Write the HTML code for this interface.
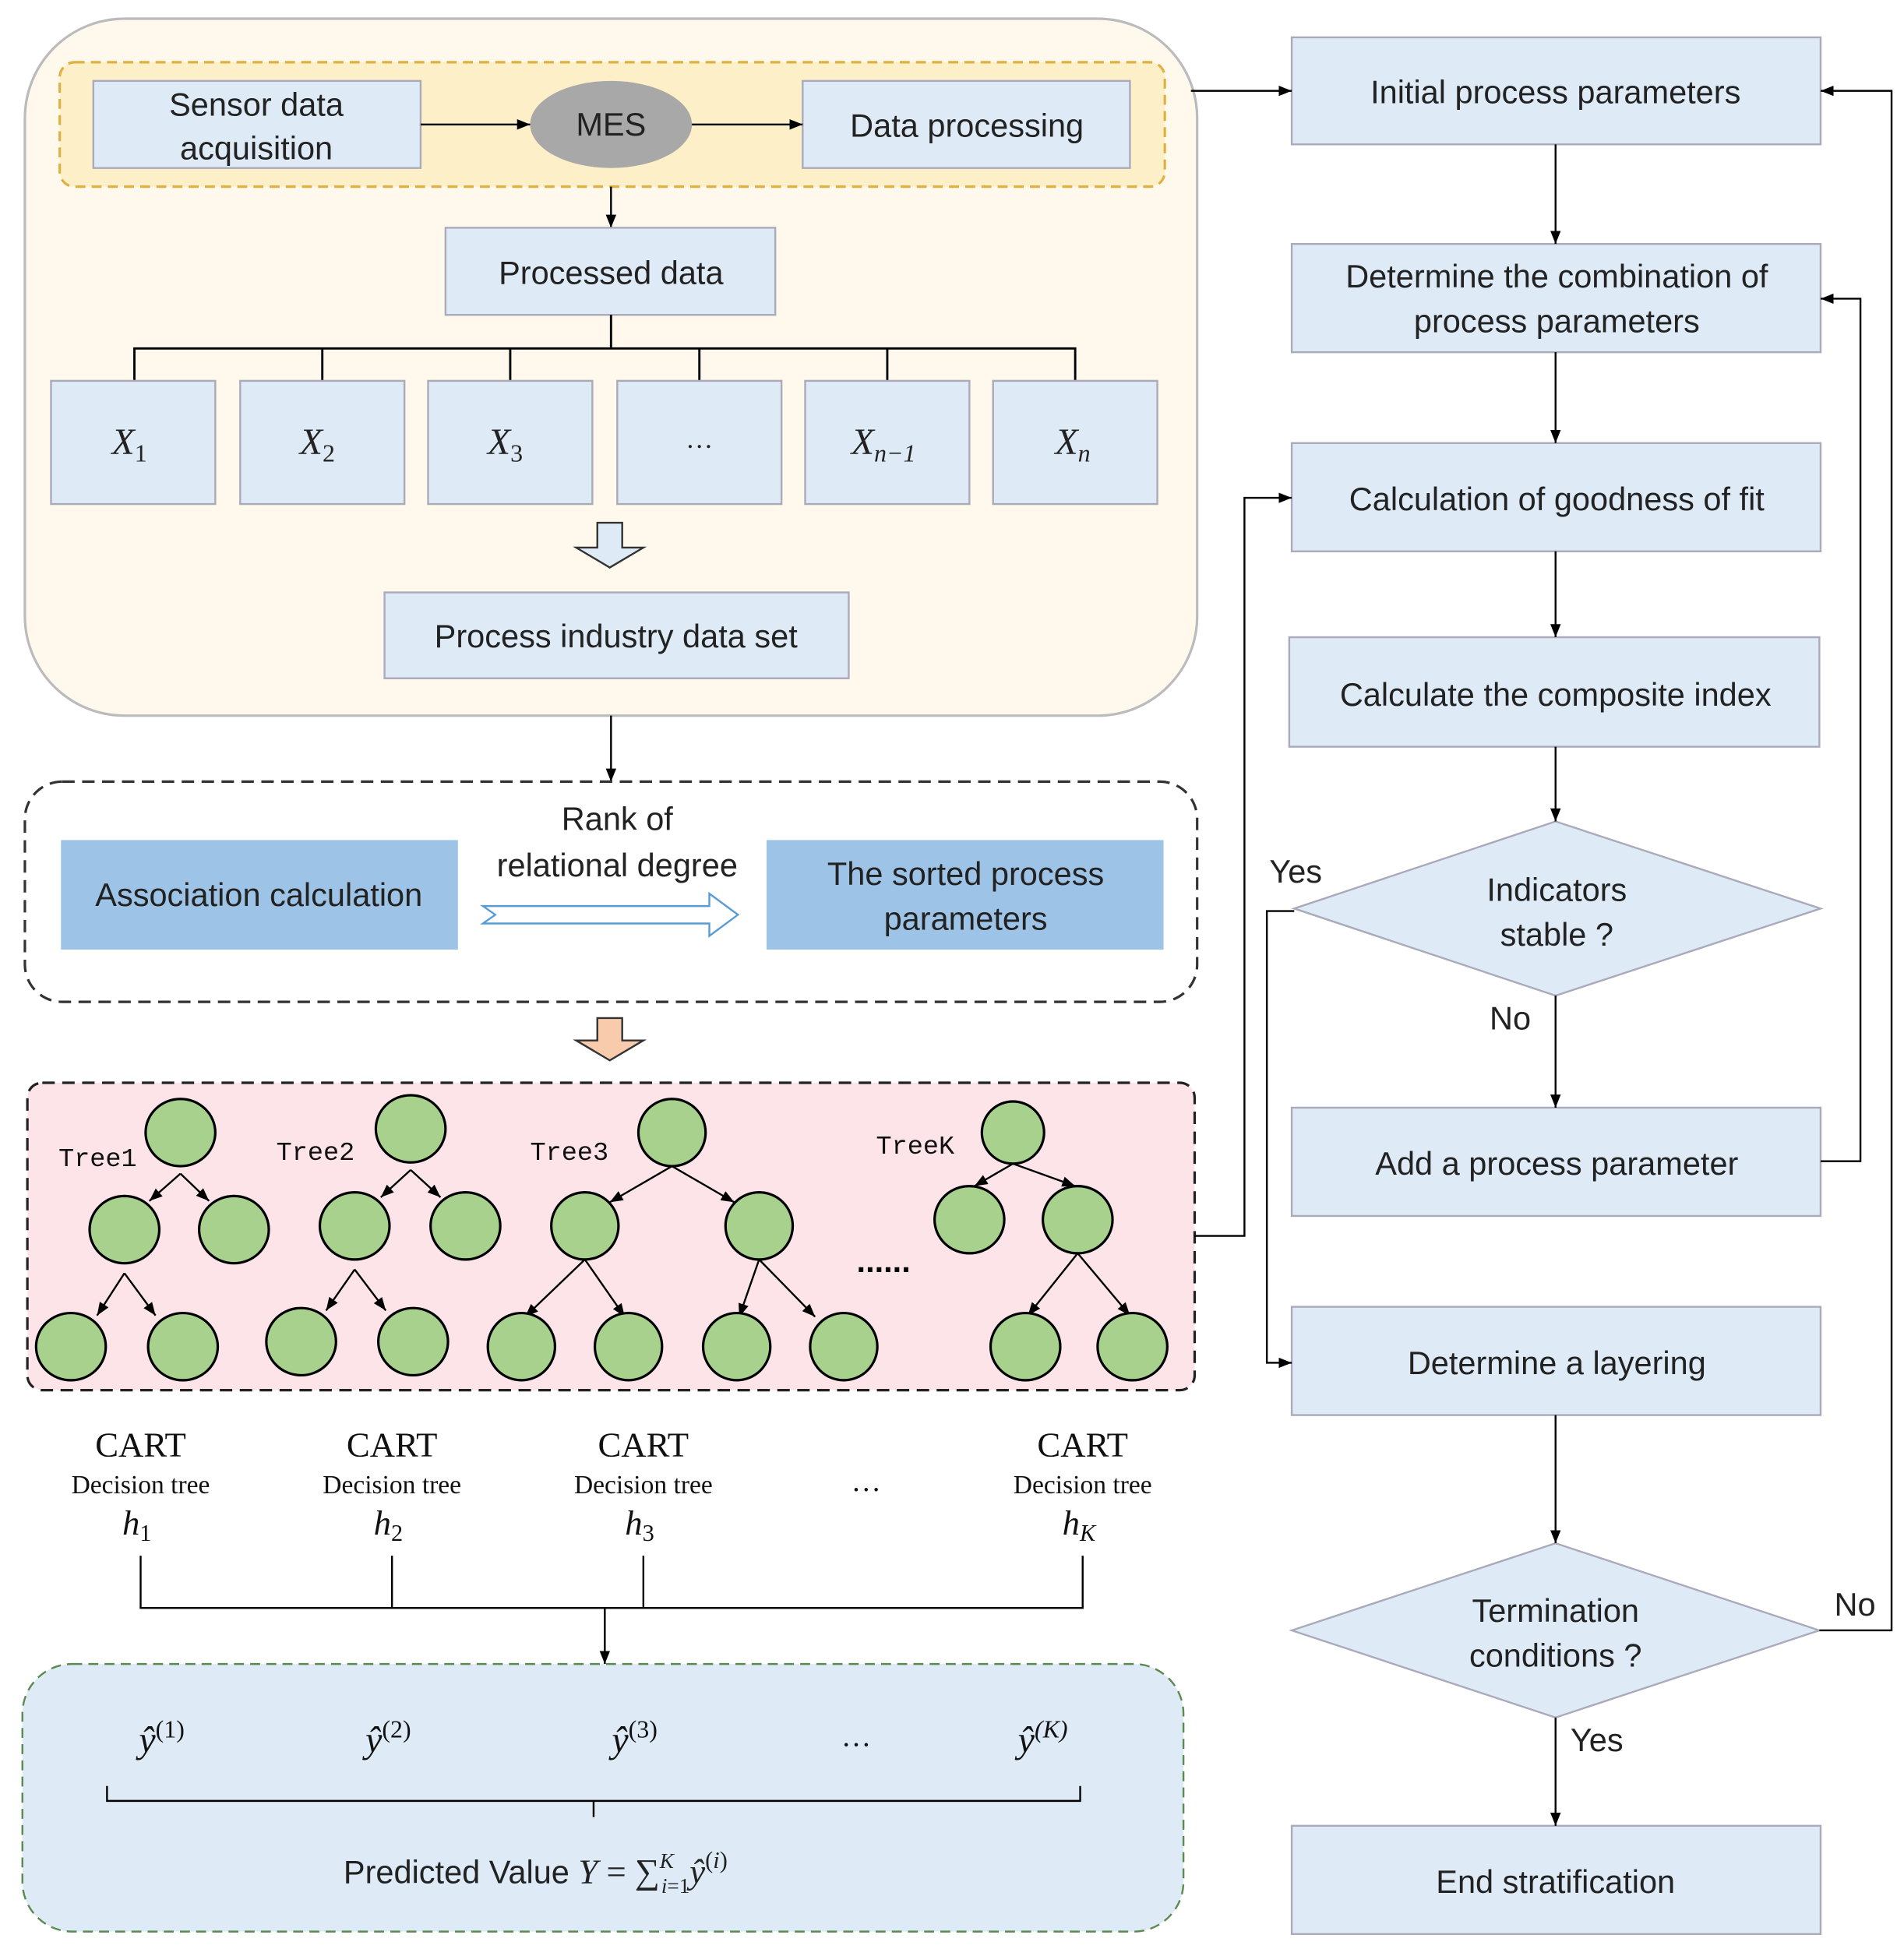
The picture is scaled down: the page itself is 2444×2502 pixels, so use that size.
<!DOCTYPE html>
<html><head><meta charset="utf-8"><style>html,body{margin:0;padding:0;background:#fff}svg{display:block}</style></head>
<body>
<svg width="2444" height="2502" viewBox="0 0 1530 1566" preserveAspectRatio="none" xmlns="http://www.w3.org/2000/svg" font-family="Liberation Sans, DejaVu Sans, sans-serif" fill="none">
<defs>
<marker id="a" viewBox="0 0 10 10" refX="10" refY="5" markerWidth="7" markerHeight="7" orient="auto"><path d="M0,1 L10,5 L0,9 z" fill="#000"/></marker>
</defs>
<g font-size="26" fill="#222">
<rect x="20" y="15" width="942" height="560" rx="80" fill="#fef9ec" stroke="#bbb" stroke-width="2"/>
<rect x="48" y="50" width="888" height="100" rx="12" fill="#fdf0c8" stroke="#e0b040" stroke-width="2" stroke-dasharray="8,5"/>
<rect x="75" y="65" width="263" height="70" fill="#deebf7" stroke="#aab" stroke-width="1.5"/>
<text x="206" y="93" text-anchor="middle">Sensor data</text>
<text x="206" y="128" text-anchor="middle">acquisition</text>
<ellipse cx="491" cy="100" rx="65" ry="35" fill="#a8a8a8"/>
<text x="491" y="109" text-anchor="middle">MES</text>
<rect x="645" y="65" width="263" height="70" fill="#deebf7" stroke="#aab" stroke-width="1.5"/>
<text x="777" y="110" text-anchor="middle">Data processing</text>
<line x1="338" y1="100" x2="426" y2="100" stroke="#000" stroke-width="1.5" marker-end="url(#a)"/>
<line x1="556" y1="100" x2="645" y2="100" stroke="#000" stroke-width="1.5" marker-end="url(#a)"/>
<line x1="491" y1="150" x2="491" y2="183" stroke="#000" stroke-width="1.5" marker-end="url(#a)"/>
<rect x="358" y="183" width="265" height="70" fill="#deebf7" stroke="#aab" stroke-width="1.5"/>
<text x="491" y="228" text-anchor="middle">Processed data</text>
<path d="M491,253 V280 M108,306 V280 H864 V306 M259,280 V306 M410,280 V306 M562,280 V306 M713,280 V306" fill="none" stroke="#000" stroke-width="1.8"/>
<g fill="#deebf7" stroke="#aab" stroke-width="1.5">
<rect x="41" y="306" width="132" height="99"/><rect x="193" y="306" width="132" height="99"/><rect x="344" y="306" width="132" height="99"/><rect x="496" y="306" width="132" height="99"/><rect x="647" y="306" width="132" height="99"/><rect x="798" y="306" width="132" height="99"/>
</g>
<g font-family="Liberation Serif, serif" font-style="italic" font-size="30" text-anchor="middle">
<text x="104" y="365">X<tspan font-size="20" font-style="normal" dy="6">1</tspan></text>
<text x="255" y="365">X<tspan font-size="20" font-style="normal" dy="6">2</tspan></text>
<text x="406" y="365">X<tspan font-size="20" font-style="normal" dy="6">3</tspan></text>
<text x="562" y="360" font-style="normal" font-size="22">…</text>
<text x="710" y="365">X<tspan font-size="20" dy="6">n−1</tspan></text>
<text x="862" y="365">X<tspan font-size="20" dy="6">n</tspan></text>
</g>
<path d="M480,420 H500 V440 H517 L490,456 L463,440 H480 Z" fill="#deebf7" stroke="#333" stroke-width="1.5"/>
<rect x="309" y="476" width="373" height="69" fill="#deebf7" stroke="#aab" stroke-width="1.5"/>
<text x="495" y="520" text-anchor="middle">Process industry data set</text>
<line x1="491" y1="575" x2="491" y2="628" stroke="#000" stroke-width="1.5" marker-end="url(#a)"/>
<rect x="20" y="628" width="942" height="177" rx="30" fill="#fff" stroke="#333" stroke-width="2" stroke-dasharray="10,6"/>
<rect x="49" y="675" width="319" height="88" fill="#9dc3e6"/>
<text x="208" y="728" text-anchor="middle">Association calculation</text>
<rect x="616" y="675" width="319" height="88" fill="#9dc3e6"/>
<text x="776" y="711" text-anchor="middle">The sorted process</text>
<text x="776" y="747" text-anchor="middle">parameters</text>
<text x="496" y="667" text-anchor="middle">Rank of</text>
<text x="496" y="704" text-anchor="middle">relational degree</text>
<path d="M388,728 H570 V718 L593,735 L570,752 V742 H388 L398,735 Z" fill="#fff" stroke="#5b9bd5" stroke-width="1.5"/>
<path d="M480,818 H500 V836 H517 L490,852 L463,836 H480 Z" fill="#f8cbad" stroke="#333" stroke-width="1.5"/>
<rect x="22" y="870" width="938" height="247" rx="12" fill="#fde4e8" stroke="#222" stroke-width="2" stroke-dasharray="10,6"/>
<g stroke="#000" stroke-width="1.5" marker-end="url(#a)">
<line x1="145" y1="943" x2="120" y2="965"/><line x1="145" y1="943" x2="168" y2="965"/>
<line x1="100" y1="1023" x2="78" y2="1057"/><line x1="100" y1="1023" x2="125" y2="1057"/>
<line x1="330" y1="940" x2="306" y2="962"/><line x1="330" y1="940" x2="354" y2="962"/>
<line x1="285" y1="1020" x2="262" y2="1053"/><line x1="285" y1="1020" x2="310" y2="1053"/>
<line x1="540" y1="937" x2="490" y2="966"/><line x1="540" y1="937" x2="590" y2="966"/>
<line x1="470" y1="1012" x2="422" y2="1058"/><line x1="470" y1="1012" x2="502" y2="1058"/>
<line x1="610" y1="1012" x2="594" y2="1058"/><line x1="610" y1="1012" x2="655" y2="1058"/>
<line x1="814" y1="935" x2="783" y2="953"/><line x1="814" y1="935" x2="864" y2="953"/>
<line x1="866" y1="1007" x2="826" y2="1057"/><line x1="866" y1="1007" x2="908" y2="1057"/>
</g>
<g fill="#a9d18e" stroke="#000" stroke-width="2">
<ellipse cx="145" cy="910" rx="28" ry="27"/><ellipse cx="100" cy="988" rx="28" ry="27"/><ellipse cx="188" cy="988" rx="28" ry="27"/><ellipse cx="57" cy="1082" rx="28" ry="27"/><ellipse cx="147" cy="1082" rx="28" ry="27"/>
<ellipse cx="330" cy="907" rx="28" ry="27"/><ellipse cx="285" cy="985" rx="28" ry="27"/><ellipse cx="374" cy="985" rx="28" ry="27"/><ellipse cx="242" cy="1078" rx="28" ry="27"/><ellipse cx="332" cy="1078" rx="28" ry="27"/>
<ellipse cx="540" cy="910" rx="27" ry="27"/><ellipse cx="470" cy="985" rx="27" ry="27"/><ellipse cx="610" cy="985" rx="27" ry="27"/><ellipse cx="419" cy="1082" rx="27" ry="27"/><ellipse cx="505" cy="1082" rx="27" ry="27"/><ellipse cx="592" cy="1082" rx="27" ry="27"/><ellipse cx="678" cy="1082" rx="27" ry="27"/>
<ellipse cx="814" cy="910" rx="25" ry="25"/><ellipse cx="779" cy="980" rx="28" ry="27"/><ellipse cx="866" cy="980" rx="28" ry="27"/><ellipse cx="824" cy="1082" rx="28" ry="27"/><ellipse cx="910" cy="1082" rx="28" ry="27"/>
</g>
<g font-family="Liberation Mono, monospace" font-size="21" fill="#111">
<text x="47" y="937">Tree1</text><text x="222" y="932">Tree2</text><text x="426" y="932">Tree3</text><text x="704" y="927">TreeK</text>
</g>
<text x="710" y="1022" font-size="26" font-weight="bold" text-anchor="middle" fill="#000">......</text>
<g font-family="Liberation Serif, serif" text-anchor="middle" fill="#111">
<text x="113" y="1170" font-size="28">CART</text><text x="113" y="1200" font-size="21">Decision tree</text>
<text x="315" y="1170" font-size="28">CART</text><text x="315" y="1200" font-size="21">Decision tree</text>
<text x="517" y="1170" font-size="28">CART</text><text x="517" y="1200" font-size="21">Decision tree</text>
<text x="870" y="1170" font-size="28">CART</text><text x="870" y="1200" font-size="21">Decision tree</text>
<text x="696" y="1198" font-size="24">…</text>
<g font-size="28" font-style="italic">
<text x="110" y="1233">h<tspan font-size="19" font-style="normal" dy="5">1</tspan></text>
<text x="312" y="1233">h<tspan font-size="19" font-style="normal" dy="5">2</tspan></text>
<text x="514" y="1233">h<tspan font-size="19" font-style="normal" dy="5">3</tspan></text>
<text x="867" y="1233">h<tspan font-size="19" dy="5">K</tspan></text>
</g>
</g>
<path d="M113,1250 V1292 H870 V1250 M315,1250 V1292 M517,1250 V1292" fill="none" stroke="#000" stroke-width="1.5"/>
<line x1="486" y1="1292" x2="486" y2="1337" stroke="#000" stroke-width="1.5" marker-end="url(#a)"/>
<rect x="18" y="1337" width="933" height="215" rx="40" fill="#deeaf6" stroke="#5a8a50" stroke-width="1.5" stroke-dasharray="8,5"/>
<g font-family="Liberation Serif, serif" font-style="italic" font-size="30" text-anchor="middle" fill="#111">
<text x="130" y="1408">ŷ<tspan font-size="20" font-style="normal" dy="-12">(1)</tspan></text>
<text x="312" y="1408">ŷ<tspan font-size="20" font-style="normal" dy="-12">(2)</tspan></text>
<text x="510" y="1408">ŷ<tspan font-size="20" font-style="normal" dy="-12">(3)</tspan></text>
<text x="688" y="1403" font-style="normal" font-size="24">…</text>
<text x="838" y="1408">ŷ<tspan font-size="20" dy="-12">(K)</tspan></text>
</g>
<path d="M86,1435 V1447 H868 V1435 M477,1447 V1460" fill="none" stroke="#000" stroke-width="1.5"/>
<text x="276" y="1513" fill="#222">Predicted Value <tspan font-family="Liberation Serif, serif" font-style="italic" font-size="28">Y</tspan><tspan font-family="Liberation Serif, serif" font-size="28"> = ∑</tspan><tspan font-family="Liberation Serif, serif" font-size="17" font-style="italic" dy="-12">K</tspan><tspan font-family="Liberation Serif, serif" font-size="17" dx="-10" dy="20"><tspan font-style="italic">i</tspan>=1</tspan><tspan font-family="Liberation Serif, serif" font-size="28" font-style="italic" dy="-8">ŷ</tspan><tspan font-family="Liberation Serif, serif" font-size="19" dy="-12">(<tspan font-style="italic">i</tspan>)</tspan></text>
<g fill="#deebf7" stroke="#aab" stroke-width="1.5">
<rect x="1038" y="30" width="425" height="86"/>
<rect x="1038" y="196" width="425" height="87"/>
<rect x="1038" y="356" width="425" height="87"/>
<rect x="1036" y="512" width="426" height="88"/>
<polygon points="1040,730 1250,660 1463,730 1250,800"/>
<rect x="1038" y="890" width="425" height="87"/>
<rect x="1038" y="1050" width="425" height="87"/>
<polygon points="1038,1310 1250,1240 1462,1310 1250,1380"/>
<rect x="1038" y="1467" width="425" height="87"/>
</g>
<g text-anchor="middle">
<text x="1250" y="83">Initial process parameters</text>
<text x="1251" y="231">Determine the combination of</text>
<text x="1251" y="267">process parameters</text>
<text x="1251" y="410">Calculation of goodness of fit</text>
<text x="1250" y="567">Calculate the composite index</text>
<text x="1251" y="724">Indicators</text>
<text x="1251" y="760">stable ?</text>
<text x="1251" y="944">Add a process parameter</text>
<text x="1251" y="1104">Determine a layering</text>
<text x="1250" y="1303">Termination</text>
<text x="1250" y="1339">conditions ?</text>
<text x="1250" y="1521">End stratification</text>
</g>
<text x="1020" y="709">Yes</text>
<text x="1197" y="827">No</text>
<text x="1474" y="1298">No</text>
<text x="1262" y="1407">Yes</text>
<g stroke="#000" stroke-width="1.5" fill="none" marker-end="url(#a)">
<polyline points="957,73 1038,73"/>
<line x1="1250" y1="116" x2="1250" y2="196"/>
<line x1="1250" y1="283" x2="1250" y2="356"/>
<line x1="1250" y1="443" x2="1250" y2="512"/>
<line x1="1250" y1="600" x2="1250" y2="660"/>
<line x1="1250" y1="800" x2="1250" y2="890"/>
<line x1="1250" y1="1137" x2="1250" y2="1240"/>
<line x1="1250" y1="1380" x2="1250" y2="1467"/>
<polyline points="1463,933 1495,933 1495,240 1463,240"/>
<polyline points="1462,1310 1520,1310 1520,73 1463,73"/>
<polyline points="1040,732 1018,732 1018,1095 1038,1095"/>
<polyline points="960,993 1000,993 1000,400 1038,400"/>
</g>
</g>
</svg>
</body></html>
